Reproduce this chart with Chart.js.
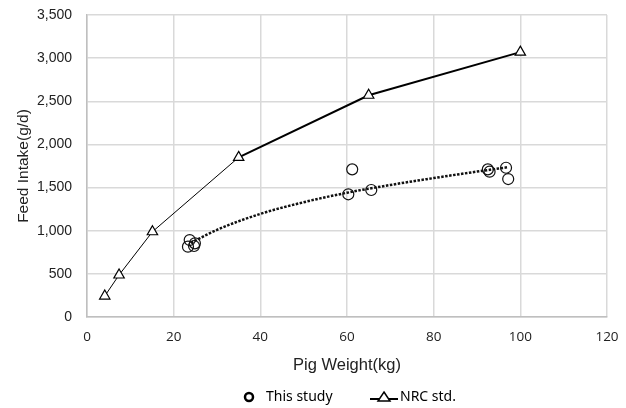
<!DOCTYPE html>
<html>
<head>
<meta charset="utf-8">
<script src="https://cdn.jsdelivr.net/npm/chart.js@4"></script>
<style>
    html, body { margin: 0; padding: 0; background: #fff; }
    #wrap { width: 626px; height: 408px; }
</style>
</head>
<body>
<div id="wrap"><canvas id="feedChart"></canvas></div>
<script>
// this study (measured)
const studyWeight = [23.3, 23.7, 24.7, 24.9, 60.3, 61.2, 65.6, 92.5, 92.9, 96.7, 97.2];
const studyIntake = [815, 892, 823, 854, 1422, 1711, 1472, 1711, 1684, 1730, 1599];

// NRC standard
const nrcWeight = [4.1, 7.4, 15.1, 35, 65, 100];
const nrcIntake = [243, 487, 988, 1850, 2570, 3070];

// trend line through this study
const trendWeight = [24, 30, 40, 50, 60, 70, 80, 90, 97];
const trendIntake = [860, 1010, 1195, 1330, 1440, 1530, 1610, 1685, 1735];

const legendNames = ["This study", "NRC std."];

function toPoints(xs, ys) {
    return xs.map(function (x, i) { return { x: x, y: ys[i] }; });
}

// legend drawn by hand so it sits like the original
const bottomLegend = {
    id: "bottomLegend",
    afterDraw: function (chart) {
        const ctx = chart.ctx;
        const area = chart.chartArea;
        const cx = (area.left + area.right) / 2;
        const y = chart.height - 11;
        ctx.save();
        ctx.strokeStyle = "#000";
        ctx.fillStyle = "#000";
        ctx.font = "14px 'Noto Sans'";
        ctx.textBaseline = "middle";
        ctx.textAlign = "left";

        // circle marker
        ctx.lineWidth = 2.5;
        ctx.beginPath();
        ctx.arc(cx - 98, y, 4, 0, Math.PI * 2);
        ctx.stroke();
        ctx.fillText(legendNames[0], cx - 81, y);

        // line + triangle
        ctx.lineWidth = 2;
        ctx.beginPath();
        ctx.moveTo(cx + 23, y + 2);
        ctx.lineTo(cx + 51, y + 2);
        ctx.stroke();
        ctx.lineWidth = 1.5;
        ctx.fillStyle = "#fff";
        ctx.beginPath();
        ctx.moveTo(cx + 37, y - 5);
        ctx.lineTo(cx + 43, y + 4);
        ctx.lineTo(cx + 31, y + 4);
        ctx.closePath();
        ctx.fill();
        ctx.stroke();
        ctx.fillStyle = "#000";
        ctx.fillText(legendNames[1], cx + 53, y);
        ctx.restore();
    }
};

const gridColor = "#d9d9d9";

new Chart(document.getElementById("feedChart"), {
    type: "scatter",
    data: {
        datasets: [
            {
                label: legendNames[0],
                data: toPoints(studyWeight, studyIntake),
                showLine: false,
                pointStyle: "circle",
                pointRadius: 5.5,
                pointBorderWidth: 1.2,
                pointBorderColor: "#111",
                pointBackgroundColor: "rgba(255,255,255,0)",
                order: 1
            },
            {
                label: legendNames[1],
                data: toPoints(nrcWeight, nrcIntake),
                showLine: true,
                borderColor: "#000",
                borderWidth: 2,
                segment: {
                    borderWidth: function (ctx) { return ctx.p0DataIndex >= 3 ? 2 : 1; }
                },
                pointStyle: "triangle",
                pointRadius: 6,
                pointBorderWidth: 1.2,
                pointBorderColor: "#000",
                pointBackgroundColor: "#fff",
                order: 0
            },
            {
                label: "trend",
                data: toPoints(trendWeight, trendIntake),
                showLine: true,
                cubicInterpolationMode: "monotone",
                borderColor: "#111",
                borderWidth: 2.5,
                borderDash: [2.5, 1.5],
                pointRadius: 0,
                order: 2
            }
        ]
    },
    options: {
        responsive: true,
        maintainAspectRatio: false,
        animation: false,
        layout: { padding: { left: 10, right: 0, top: 0, bottom: 33 } },
        plugins: {
            tooltip: { enabled: false },
            legend: { display: false }
        },
        scales: {
            x: {
                type: "linear",
                min: 0,
                max: 120,
                afterFit: function (scale) { scale.height = 58; scale.paddingRight = 19; },
                ticks: { stepSize: 20, color: "#222", font: { family: "Open Sans", size: 13.5 }, padding: 12 },
                grid: { color: gridColor, lineWidth: 1.5, drawTicks: false },
                border: { color: "#bfbfbf", width: 1.5 },
                title: { display: true, text: "Pig Weight(kg)", color: "#222", font: { family: "Liberation Sans", size: 16.5 }, padding: { top: 0, bottom: 0 } }
            },
            y: {
                min: 0,
                max: 3500,
                afterFit: function (scale) { scale.width = 77; scale.paddingTop = 15; },
                ticks: {
                    stepSize: 500,
                    color: "#222",
                    font: { family: "Liberation Sans", size: 14, lineHeight: 1 },
                    padding: 15,
                    callback: function (value) { return value.toLocaleString("en-US"); }
                },
                grid: { color: gridColor, lineWidth: 1.5, drawTicks: false },
                border: { color: "#bfbfbf", width: 1.5 },
                title: { display: true, text: "Feed Intake(g/d)", color: "#222", font: { family: "Liberation Sans", size: 15.5 }, padding: { top: 4, bottom: 0 } }
            }
        }
    },
    plugins: [bottomLegend]
});
</script>
</body>
</html>
